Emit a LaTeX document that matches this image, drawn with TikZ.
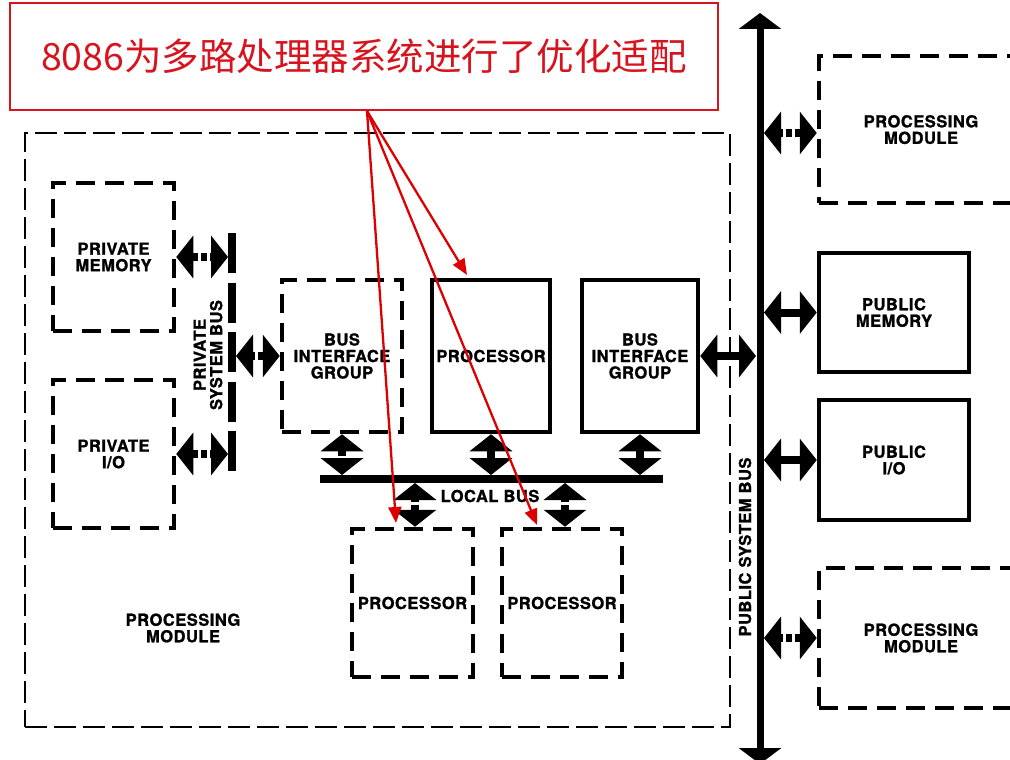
\documentclass[tikz,border=0pt]{standalone}
\usepackage{fontspec}
\newfontfamily\cjk{Noto Sans CJK SC}
\newfontfamily\hv[BoldFeatures={FakeBold=1.2,LetterSpace=3}]{TeX Gyre Heros}
\usetikzlibrary{arrows.meta,calc}
\definecolor{hlred}{RGB}{215,20,30}
\definecolor{arrred}{RGB}{220,0,0}
\begin{document}
\begin{tikzpicture}[x=1pt,y=-1pt,
  lbl/.style={font=\hv\bfseries\fontsize{16.5}{16.5}\selectfont, align=center},
  boxbase/.style={rectangle, inner sep=0pt, lbl},
  dbox/.style={boxbase, draw, line width=4.5pt, dash pattern=on 19pt off 10pt},
  sbox/.style={boxbase, draw, line width=4.5pt},
  dbl/.style={line width=8pt, {Triangle[width=42pt,length=17pt]}-{Triangle[width=42pt,length=17pt]}},
  dbld/.style={dbl, dash pattern=on 6pt off 3pt},
  bar/.style={line width=8pt},
  redarr/.style={draw=arrred, line width=2.3pt, -{Triangle[width=13pt,length=16pt]}},
]
\useasboundingbox (0,0) rectangle (1010,760);
\clip (0,0) rectangle (1010,760);
\fill[white] (0,0) rectangle (1010,760);

% outer processing module
\node[rectangle, draw, line width=2pt, dash pattern=on 22pt off 7pt, minimum width=705pt, minimum height=594pt, inner sep=0pt] (outer) at (377.5,430) {};
\node[lbl] (pmlabel) at (183,628) {PROCESSING\\MODULE};

% left boxes
\node[dbox, minimum width=121pt, minimum height=148pt] (pmem) at (113.5,257) {PRIVATE\\MEMORY};
\node[dbox, minimum width=121pt, minimum height=148pt] (pio) at (113.5,454) {PRIVATE\\I/O};

% private system bus
\draw[bar, dash pattern=on 40pt off 9.5pt] (232,233) -- (232,475);
\coordinate (privL) at (228,355);
\coordinate (privR) at (236,355);
\node[lbl, rotate=90] (privlabel) at (208,355) {PRIVATE\\SYSTEM BUS};

% middle row
\node[dbox, minimum width=120pt, minimum height=152pt] (big1) at (342,356) {BUS\\INTERFACE\\GROUP};
\node[sbox, minimum width=118pt, minimum height=152pt] (proc) at (491,356) {PROCESSOR};
\node[sbox, minimum width=116pt, minimum height=152pt] (big2) at (640,356) {BUS\\INTERFACE\\GROUP};

% local bus
\draw[bar] (320,479) -- (663,479);
\coordinate (lbT) at (490,475);
\coordinate (lbB) at (490,483);
\node[lbl] (lblabel) at (490,496) {LOCAL BUS};

% bottom processors
\node[dbox, minimum width=121pt, minimum height=148pt] (p1) at (412.5,603) {PROCESSOR};
\node[dbox, minimum width=120pt, minimum height=148pt] (p2) at (562,603) {PROCESSOR};

% public system bus
\coordinate (pubtop) at (760,13);
\coordinate (pubbot) at (760,764);
\draw[line width=7pt, {Triangle[width=42pt,length=16pt]}-{Triangle[width=42pt,length=16pt]}] (pubtop) -- (pubbot);
\coordinate (pubL) at (756,355);
\coordinate (pubR) at (764,355);
\node[lbl, rotate=90] (publabel) at (745,547) {PUBLIC SYSTEM BUS};

% right boxes
\node[dbox, minimum width=204pt, minimum height=147pt, text depth=-6pt] (rpm1) at (921,129.5) {PROCESSING\\MODULE};
\node[sbox, minimum width=150pt, minimum height=119pt] (pubmem) at (894,312.5) {PUBLIC\\MEMORY};
\node[sbox, minimum width=150pt, minimum height=120pt] (pubio) at (894,460) {PUBLIC\\I/O};
\node[dbox, minimum width=204pt, minimum height=140pt] (rpm2) at (921,638) {PROCESSING\\MODULE};

% connectors: private bus
\draw[dbld] (pmem.east) -- (pmem.east -| privL);
\draw[dbld] (pio.east) -- (pio.east -| privL);
\draw[dbld] (big1.west) -- (big1.west -| privR);

% connectors: local bus
\draw[dbld] (big1.south) -- (big1.south |- lbT);
\draw[dbl] (proc.south) -- (proc.south |- lbT);
\draw[dbl] (big2.south) -- (big2.south |- lbT);
\draw[dbld] ($(p1.north)+(2.5,0)$) -- ($(p1.north |- lbB)+(2.5,0)$);
\draw[dbld] ($(p2.north)+(3,0)$) -- ($(p2.north |- lbB)+(3,0)$);

% connectors: public bus
\draw[dbl] (big2.east) -- (big2.east -| pubL);
\draw[dbld] (rpm1.west |- 0,133) -- (pubR |- 0,133);
\draw[dbl] (pubmem.west) -- (pubmem.west -| pubR);
\draw[dbl] (pubio.west) -- (pubio.west -| pubR);
\draw[dbld] (rpm2.west) -- (rpm2.west -| pubR);

% red annotation
\node[draw=hlred, line width=1.5pt, minimum width=708pt, minimum height=107pt, inner sep=0pt, text=hlred, font=\cjk\fontsize{37.5}{40}\selectfont] (note) at (364,56.5) {8086为多路处理器系统进行了优化适配};
\coordinate (rsrc) at (367,111);
\coordinate (t1) at (467,275);
\coordinate (t2) at (396,523);
\coordinate (t3) at (537,525);
\draw[redarr] (rsrc) -- (t1);
\draw[redarr] (rsrc) -- (t2);
\draw[redarr] (rsrc) -- (t3);
\end{tikzpicture}
\end{document}
